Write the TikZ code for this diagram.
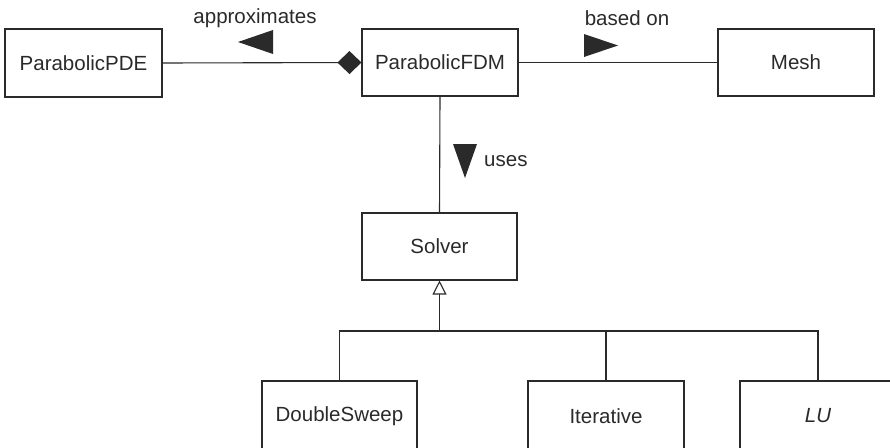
\documentclass[tikz,border=0pt]{standalone}
\usepackage{fontspec}
\setmainfont{Liberation Sans}
\usetikzlibrary{arrows.meta}
\definecolor{ink}{HTML}{2A2A2A}
\tikzset{
  cls/.style={draw=ink, line width=1.1pt, minimum width=156pt, minimum height=67pt, inner sep=0pt,
              text=ink, font=\fontsize{20.5}{24}\selectfont},
  lowcls/.style={cls, minimum height=70pt},
  lbl/.style={text=ink, inner sep=0pt, font=\fontsize{20.5}{24}\selectfont},
  conn/.style={draw=ink, line width=1.1pt},
  pointer/.style={fill=ink}
}
\begin{document}
\begin{tikzpicture}[x=1pt,y=-1pt]
\useasboundingbox (0,0) rectangle (890,447);
\node[cls, minimum height=68pt, minimum width=157pt] (pde) at (83.5,63) {ParabolicPDE};
\node[cls] (fdm) at (440,62.5) {ParabolicFDM};
\node[cls] (mesh) at (796,62.5) {Mesh};
\node[cls, minimum width=155pt] (solver) at (439.5,246.5) {Solver};
\node[lowcls, minimum width=155pt] (ds) at (339.5,416) {DoubleSweep};
\node[lowcls] (it) at (606,416) {Iterative};
\node[lowcls] (lu) at (818,416) {\itshape LU};
% associations
\draw[conn, -{Diamond[length=24pt,width=23pt,fill=ink,color=ink]}] (pde.east) -- (fdm.west);
\draw[conn] (fdm.east) -- (mesh.west);
\draw[conn] (fdm.south) -- (solver.north);
% labels
\node[lbl] (lapprox) at (255,18) {approximates};
\node[lbl] (lbased) at (627,18) {based on};
\node[lbl, anchor=west] (luses) at (484,161) {uses};
% direction markers
\fill[pointer] (238,42) -- (273,30) -- (273,54) -- cycle;
\fill[pointer] (618,45.5) -- (584,34) -- (584,57) -- cycle;
\fill[pointer] (465,178) -- (453,144) -- (477,144) -- cycle;
% generalization
\coordinate (j) at (439.5,331);
\draw[conn, -{Triangle[open,length=14pt,width=14pt,line width=1.1pt]}] (j) -- (solver.south);
\draw[conn] (ds.north) |- (j) -| (lu.north);
\draw[conn] (it.north) -- (it.north |- j);
\end{tikzpicture}
\end{document}
